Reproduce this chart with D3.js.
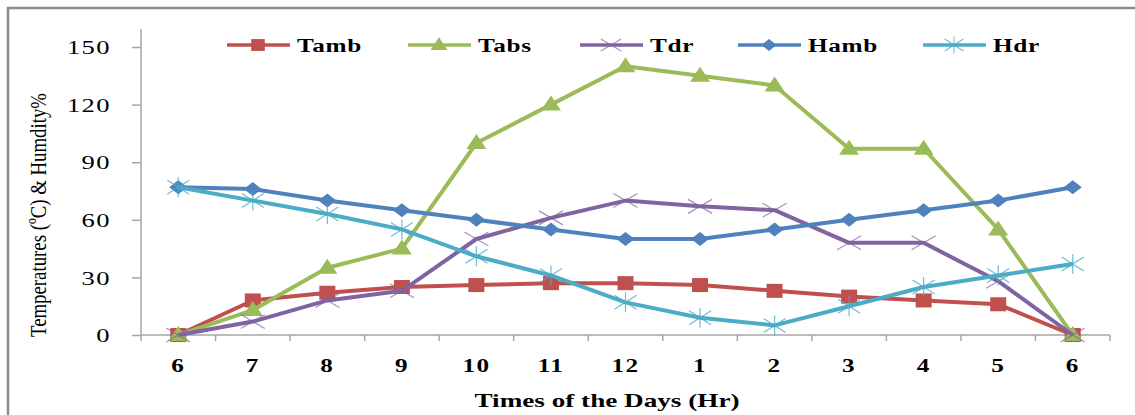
<!DOCTYPE html>
<html>
<head>
<meta charset="utf-8">
<title>Temperatures and Humidity</title>
<script src="https://cdn.jsdelivr.net/npm/d3@7"></script>
<style>
body { margin: 0; background: #fff; }
svg text { font-family: "Liberation Serif", "Times New Roman", Times, "DejaVu Serif", serif; fill: #000; }
.grid-line { stroke: #a6a6a6; stroke-width: 1.5px; }
</style>
</head>
<body>
<div id="chart"></div>
<script>
var hours = ['6', '7', '8', '9', '10', '11', '12', '1', '2', '3', '4', '5', '6'];
var yTicks = [0, 30, 60, 90, 120, 150];

var tamb = [0, 18, 22, 25, 26, 27, 27, 26, 23, 20, 18, 16, 0];
var tabs = [0, 13, 35, 45, 100, 120, 140, 135, 130, 97, 97, 55, 0];
var tdr  = [0, 7, 18, 23, 50, 61, 70, 67, 65, 48, 48, 28, 0];
var hamb = [77, 76, 70, 65, 60, 55, 50, 50, 55, 60, 65, 70, 77];
var hdr  = [77, 70, 63, 55, 41, 31, 17, 9, 5, 15, 25, 31, 37];

var seriesNames = ['Tamb', 'Tabs', 'Tdr', 'Hamb', 'Hdr'];
var seriesColors = ['#C0504D', '#9BBB59', '#8064A2', '#4F81BD', '#4BACC6'];
var seriesMarks = ['square', 'triangle', 'cross', 'diamond', 'star'];
var seriesValues = [tamb, tabs, tdr, hamb, hdr];

var W = 1135, H = 415;
var pLeft = 141, pRight = 1110, pTop = 47, pBottom = 335;

var svg = d3.select('#chart').append('svg')
    .attr('width', W).attr('height', H);

// outer frame
svg.append('path')
    .attr('d', 'M8,' + H + 'V8H' + W)
    .attr('fill', 'none').attr('stroke', '#8c8c8c').attr('stroke-width', 2.5);

var x = d3.scaleBand().domain(d3.range(hours.length)).range([pLeft, pRight]);
var y = d3.scaleLinear().domain([0, 150]).range([pBottom, pTop]);

// y axis
var yAxis = svg.append('g')
    .attr('transform', 'translate(' + pLeft + ',0)')
    .call(d3.axisLeft(y).tickValues(yTicks).tickSize(9));
yAxis.select('.domain').remove();
yAxis.selectAll('.tick line').attr('stroke', '#a6a6a6').attr('stroke-width', 1.5);
yAxis.selectAll('text')
    .attr('x', 0).attr('dy', '0.35em')
    .attr('font-size', 19).attr('letter-spacing', 1)
    .attr('transform', 'translate(-30,0) scale(1.4,1)');
svg.append('line').attr('class', 'grid-line')
    .attr('x1', pLeft).attr('x2', pLeft).attr('y1', 29).attr('y2', pBottom);

// x axis
var xAxis = svg.append('g')
    .attr('transform', 'translate(0,' + pBottom + ')')
    .call(d3.axisBottom(x).tickSize(0).tickFormat(function(i) { return hours[i]; }));
xAxis.select('.domain').remove();
xAxis.selectAll('text')
    .attr('y', 0).attr('dy', 0)
    .attr('font-size', 18).attr('font-weight', 'bold').attr('letter-spacing', 1)
    .attr('transform', 'translate(0,37) scale(1.4,1)');
svg.append('line').attr('class', 'grid-line')
    .attr('x1', pLeft).attr('x2', pRight).attr('y1', pBottom).attr('y2', pBottom);
svg.selectAll('.xtick').data(d3.range(hours.length + 1)).enter().append('line')
    .attr('class', 'grid-line')
    .attr('x1', function(i) { return pLeft + i * x.step(); })
    .attr('x2', function(i) { return pLeft + i * x.step(); })
    .attr('y1', pBottom).attr('y2', pBottom + 6);

// axis titles
svg.append('text')
    .attr('transform', 'translate(46,215) rotate(-90)')
    .attr('text-anchor', 'middle')
    .attr('font-size', 24)
    .attr('textLength', 244).attr('lengthAdjust', 'spacingAndGlyphs')
    .text('Temperatures (ºC) & Humdity%');
svg.append('text')
    .attr('x', 607).attr('y', 407)
    .attr('text-anchor', 'middle')
    .attr('font-size', 19).attr('font-weight', 'bold')
    .attr('textLength', 265).attr('lengthAdjust', 'spacingAndGlyphs')
    .text('Times of the Days (Hr)');

function drawMarker(g, type, color) {
    if (type == 'square') {
        g.append('rect').attr('x', -8).attr('y', -7).attr('width', 16).attr('height', 14).attr('fill', color);
    } else if (type == 'triangle') {
        g.append('path').attr('d', 'M0,-9L10,6H-10Z').attr('fill', color);
    } else if (type == 'diamond') {
        g.append('path').attr('d', 'M0,-7L9,0L0,7L-9,0Z').attr('fill', color);
    } else if (type == 'cross') {
        g.append('path').attr('d', 'M-12,-7L12,7M-12,7L12,-7')
            .attr('stroke', color).attr('stroke-width', 1.2).attr('opacity', 0.7);
    } else if (type == 'star') {
        g.append('path').attr('d', 'M-11,-7L11,7M-11,7L11,-7M0,-10V10')
            .attr('stroke', color).attr('stroke-width', 1.2).attr('opacity', 0.8);
    }
}

var line = d3.line()
    .x(function(d, i) { return x(i) + x.bandwidth() / 2; })
    .y(function(d) { return y(d); });

seriesValues.forEach(function(vals, s) {
    var g = svg.append('g');
    g.append('path')
        .datum(vals)
        .attr('fill', 'none')
        .attr('stroke', seriesColors[s])
        .attr('stroke-width', 4)
        .attr('stroke-linejoin', 'round')
        .attr('d', line);
    vals.forEach(function(v, i) {
        var m = g.append('g')
            .attr('transform', 'translate(' + (x(i) + x.bandwidth() / 2) + ',' + y(v) + ')');
        drawMarker(m, seriesMarks[s], seriesColors[s]);
    });
});

// legend
var legendX = [227, 408, 580, 738, 923];
seriesNames.forEach(function(name, s) {
    var g = svg.append('g').attr('transform', 'translate(' + legendX[s] + ',45)');
    g.append('line').attr('x1', 0).attr('x2', 63).attr('y1', 0).attr('y2', 0)
        .attr('stroke', seriesColors[s]).attr('stroke-width', 3.5);
    var m = g.append('g').attr('transform', 'translate(31,0) scale(0.85)');
    drawMarker(m, seriesMarks[s], seriesColors[s]);
    g.append('text')
        .attr('font-size', 19).attr('font-weight', 'bold').attr('letter-spacing', 0.5)
        .attr('transform', 'translate(70,7) scale(1.33,1)')
        .text(name);
});
</script>
</body>
</html>
